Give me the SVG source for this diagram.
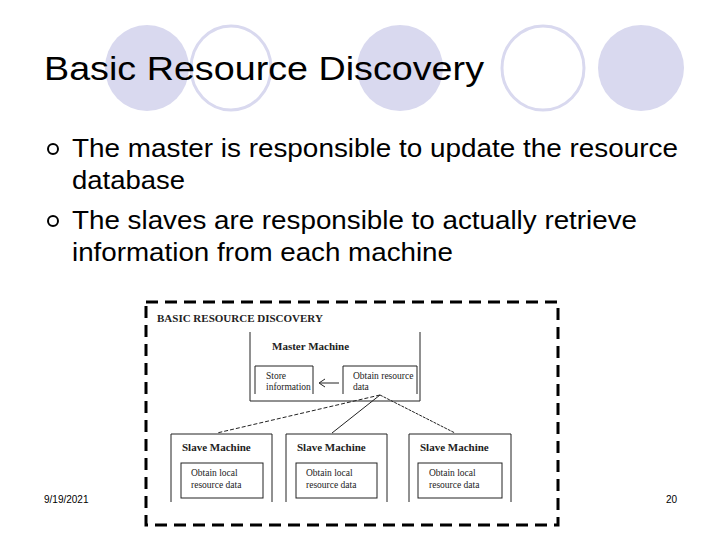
<svg xmlns="http://www.w3.org/2000/svg" width="720" height="540" viewBox="0 0 720 540">
<style>
.f{fill:#d9d9ef}.o{fill:none;stroke:#d9d9ef;stroke-width:3}
.s{font-family:"Liberation Sans",Arial,sans-serif}
.r{font-family:"Liberation Serif","Times New Roman",serif;fill:#222}
.b{fill:none;stroke:#222;stroke-width:1}
</style>
<rect width="720" height="540" fill="#fff"/>
<g id="decor">
<ellipse class="f" cx="147" cy="68" rx="42" ry="43"/>
<ellipse class="o" cx="231" cy="68" rx="40" ry="42"/>
<ellipse class="f" cx="400" cy="68" rx="43" ry="43"/>
<ellipse class="o" cx="543" cy="68" rx="41" ry="42"/>
<ellipse class="f" cx="641" cy="68" rx="43" ry="43"/>
</g>
<text class="s" x="44" y="80" font-size="34" textLength="440" lengthAdjust="spacingAndGlyphs">Basic Resource Discovery</text>
<g id="bullets" class="s" font-size="25">
<circle cx="53" cy="149" r="5" fill="none" stroke="#000" stroke-width="2"/>
<circle cx="53" cy="221" r="5" fill="none" stroke="#000" stroke-width="2"/>
<text x="72" y="157" textLength="606" lengthAdjust="spacingAndGlyphs">The master is responsible to update the resource</text>
<text x="72" y="189" textLength="113" lengthAdjust="spacingAndGlyphs">database</text>
<text x="72" y="229" textLength="565" lengthAdjust="spacingAndGlyphs">The slaves are responsible to actually retrieve</text>
<text x="72" y="261" textLength="381" lengthAdjust="spacingAndGlyphs">information from each machine</text>
</g>
<text class="s" x="44" y="503" font-size="10">9/19/2021</text>
<text class="s" x="666" y="503" font-size="10">20</text>
<rect x="146" y="302" width="412" height="223" fill="none" stroke="#000" stroke-width="3" stroke-dasharray="12,7"/>
<text class="r" x="157" y="322" font-size="11" font-weight="bold">BASIC RESOURCE DISCOVERY</text>
<g id="master">
<path class="b" d="M250 332V401H420V332"/>
<text class="r" x="272" y="350" font-size="11" font-weight="bold">Master Machine</text>
</g>
<g id="store"><path class="b" d="M255 394V366H313V394"/><text class="r" x="266" y="379" font-size="9.5">Store</text><text class="r" x="266" y="390" font-size="9.5">information</text></g>
<g id="obtain"><path class="b" d="M343 394V366H417V394"/><text class="r" x="353" y="379" font-size="9.5">Obtain resource</text><text class="r" x="353" y="390" font-size="9.5">data</text></g>
<g id="slave1"><path class="b" d="M171 502V434H272V502"/><text class="r" x="182" y="451" font-size="11" font-weight="bold">Slave Machine</text><rect class="b" x="181" y="463" width="82" height="35"/><text class="r" x="191" y="476" font-size="9.5">Obtain local</text><text class="r" x="191" y="488" font-size="9.5">resource data</text></g>
<g id="slave2"><path class="b" d="M286 502V434H387V502"/><text class="r" x="297" y="451" font-size="11" font-weight="bold">Slave Machine</text><rect class="b" x="296" y="463" width="81" height="35"/><text class="r" x="306" y="476" font-size="9.5">Obtain local</text><text class="r" x="306" y="488" font-size="9.5">resource data</text></g>
<g id="slave3"><path class="b" d="M409 502V434H511V502"/><text class="r" x="420" y="451" font-size="11" font-weight="bold">Slave Machine</text><rect class="b" x="418" y="463" width="84" height="35"/><text class="r" x="429" y="476" font-size="9.5">Obtain local</text><text class="r" x="429" y="488" font-size="9.5">resource data</text></g>
<g id="connectors" stroke="#222" fill="none">
<path d="M339 383H320M325 379L319 383L325 387"/>
<path d="M380 395L217 433" stroke-dasharray="4,2"/>
<path d="M380 395L332 433"/>
<path d="M380 395L455 433" stroke-dasharray="3,1"/>
</g>
</svg>
